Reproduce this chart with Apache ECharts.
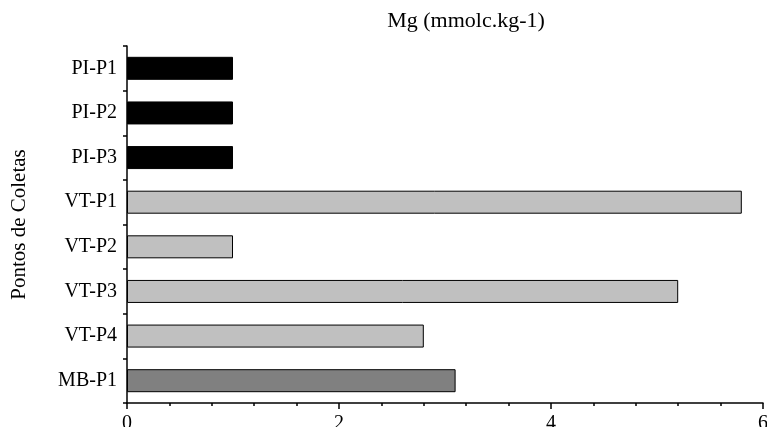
<!DOCTYPE html>
<html>
<head>
<meta charset="utf-8">
<script src="https://cdn.jsdelivr.net/npm/echarts@6/dist/echarts.min.js"></script>
<style>
html,body{margin:0;padding:0;background:#fff;}
#chart{width:767px;height:427px;}
</style>
</head>
<body>
<div id="chart"></div>
<script>
const categories = ['PI-P1', 'PI-P2', 'PI-P3', 'VT-P1', 'VT-P2', 'VT-P3', 'VT-P4', 'MB-P1'];
const mgValues = [1.0, 1.0, 1.0, 5.8, 1.0, 5.2, 2.8, 3.1];
const xTicks = [0, 2, 4, 6];

const groupColor = { PI: '#000000', VT: '#c0c0c0', MB: '#808080' };
const FONT = '"Liberation Serif", "Times New Roman", serif';

const chart = echarts.init(document.getElementById('chart'), null, { renderer: 'canvas' });
chart.setOption({
  animation: false,
  backgroundColor: '#ffffff',
  title: {
    text: 'Mg (mmolc.kg-1)',
    left: 461,
    textAlign: 'center',
    top: 5,
    textStyle: { fontFamily: FONT, fontSize: 22, fontWeight: 'normal', color: '#000' }
  },
  grid: { left: 127, right: 4, top: 46, bottom: 24, containLabel: false, outerBoundsMode: 'none' },
  xAxis: {
    type: 'value',
    min: xTicks[0],
    max: xTicks[xTicks.length - 1],
    interval: 2,
    axisLine: { show: true, lineStyle: { color: '#000', width: 1.5 } },
    axisTick: { show: true, inside: false, length: 6, lineStyle: { color: '#000', width: 1.5 } },
    minorTick: { show: true, splitNumber: 5, length: 3, lineStyle: { color: '#000', width: 1.5 } },
    splitLine: { show: false },
    axisLabel: { fontFamily: FONT, fontSize: 20, color: '#000', margin: 11 }
  },
  yAxis: {
    type: 'category',
    data: categories,
    inverse: true,
    name: 'Pontos de Coletas',
    nameLocation: 'middle',
    nameGap: 97,
    nameRotate: 90,
    nameTextStyle: { fontFamily: FONT, fontSize: 21, color: '#000' },
    axisLine: { show: true, lineStyle: { color: '#000', width: 1.5 } },
    axisTick: { show: true, inside: false, length: 4, lineStyle: { color: '#000', width: 1.5 } },
    splitLine: { show: false },
    axisLabel: { fontFamily: FONT, fontSize: 20, color: '#000', margin: 10 }
  },
  series: [{
    type: 'bar',
    barWidth: 23,
    data: mgValues.map((v, i) => ({
      value: v,
      itemStyle: {
        color: groupColor[categories[i].split('-')[0]],
        borderColor: '#000',
        borderWidth: 1
      }
    }))
  }]
});
</script>
</body>
</html>
